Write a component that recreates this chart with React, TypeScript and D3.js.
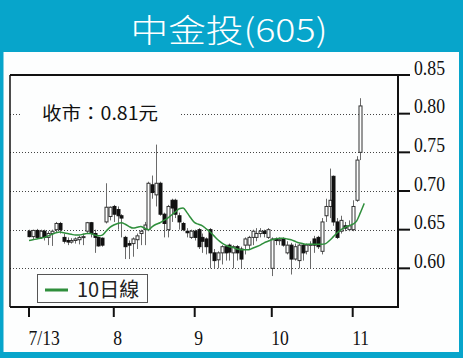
import React from "react";
import * as d3 from "d3";

const opens = [0.648,0.641,0.649,0.640,0.648,0.640,0.645,0.650,0.658,0.640,0.636,0.634,0.636,0.637,0.640,0.648,0.659,0.645,0.640,0.639,0.660,0.667,0.680,0.676,0.668,0.640,0.632,0.632,0.637,0.645,0.650,0.650,0.708,0.695,0.710,0.670,0.650,0.688,0.688,0.668,0.658,0.648,0.640,0.648,0.650,0.640,0.638,0.650,0.620,0.611,0.620,0.628,0.630,0.620,0.628,0.625,0.630,0.630,0.640,0.640,0.645,0.648,0.640,0.600,0.638,0.636,0.638,0.620,0.630,0.612,0.610,0.630,0.622,0.630,0.638,0.640,0.622,0.668,0.680,0.719,0.660,0.648,0.655,0.650,0.650,0.688,0.750];
const highs = [0.650,0.650,0.651,0.650,0.650,0.648,0.650,0.660,0.660,0.645,0.640,0.639,0.640,0.642,0.645,0.660,0.660,0.650,0.641,0.640,0.710,0.680,0.682,0.680,0.670,0.642,0.636,0.640,0.645,0.650,0.660,0.712,0.720,0.760,0.712,0.672,0.682,0.690,0.690,0.672,0.660,0.652,0.650,0.650,0.652,0.645,0.640,0.652,0.625,0.622,0.630,0.630,0.632,0.630,0.630,0.628,0.640,0.642,0.650,0.652,0.652,0.650,0.652,0.640,0.640,0.640,0.640,0.635,0.633,0.632,0.632,0.632,0.632,0.635,0.642,0.642,0.665,0.690,0.729,0.720,0.665,0.668,0.660,0.662,0.688,0.745,0.820];
const lows = [0.640,0.638,0.639,0.638,0.636,0.630,0.629,0.647,0.645,0.632,0.630,0.632,0.632,0.631,0.630,0.645,0.640,0.620,0.628,0.628,0.658,0.662,0.660,0.650,0.640,0.612,0.612,0.615,0.625,0.630,0.630,0.648,0.690,0.680,0.668,0.640,0.640,0.660,0.665,0.650,0.648,0.640,0.638,0.636,0.625,0.620,0.618,0.600,0.600,0.600,0.605,0.610,0.610,0.600,0.610,0.600,0.618,0.625,0.630,0.635,0.640,0.640,0.638,0.590,0.630,0.630,0.628,0.618,0.592,0.610,0.600,0.610,0.618,0.600,0.620,0.625,0.618,0.660,0.665,0.655,0.638,0.645,0.648,0.648,0.648,0.686,0.740];
const closes = [0.641,0.649,0.640,0.648,0.640,0.645,0.648,0.658,0.650,0.635,0.634,0.636,0.638,0.640,0.641,0.659,0.645,0.640,0.629,0.630,0.679,0.679,0.670,0.668,0.665,0.628,0.630,0.638,0.642,0.648,0.656,0.710,0.698,0.710,0.670,0.658,0.680,0.678,0.670,0.660,0.650,0.646,0.648,0.640,0.628,0.635,0.628,0.620,0.610,0.620,0.628,0.620,0.621,0.628,0.620,0.612,0.638,0.640,0.648,0.645,0.648,0.645,0.650,0.638,0.636,0.637,0.630,0.630,0.612,0.628,0.630,0.620,0.630,0.631,0.630,0.628,0.660,0.680,0.688,0.660,0.640,0.662,0.652,0.655,0.680,0.740,0.810];
const ma10 = [0.636,0.637,0.638,0.639,0.640,0.642,0.644,0.646,0.647,0.646,0.645,0.644,0.643,0.643,0.644,0.645,0.645,0.643,0.642,0.643,0.648,0.653,0.656,0.658,0.659,0.657,0.654,0.652,0.653,0.654,0.652,0.650,0.654,0.657,0.659,0.662,0.665,0.669,0.673,0.677,0.678,0.672,0.665,0.659,0.657,0.655,0.651,0.647,0.642,0.637,0.633,0.630,0.628,0.627,0.625,0.624,0.624,0.624,0.626,0.628,0.630,0.633,0.635,0.637,0.638,0.639,0.639,0.638,0.637,0.635,0.633,0.632,0.631,0.631,0.631,0.631,0.631,0.632,0.636,0.641,0.646,0.650,0.653,0.655,0.657,0.661,0.672,0.684];

const xTickIndex = [0, 22, 43, 63, 84];
const xTickLabels = ["7/13", "8", "9", "10", "11"];
const yTicks = [0.85, 0.80, 0.75, 0.70, 0.65, 0.60];
const gridValues = [0.80, 0.75, 0.70, 0.65, 0.60];
const titleText = "中金投(605)";
const closeLabel = "收市：0.81元";
const legendLabel = "10日線";

const W = 463, H = 358;
const plotL = 10, plotR = 398, plotT = 75, plotB = 307;
const teal = "#07a5cb";
const green = "#2f8f3c";

export default function App() {
  const y = d3.scaleLinear().domain([0.55, 0.85]).range([plotB, plotT]);
  const x = d3.scaleLinear().domain([0, 84]).range([29, 352.7]);
  const maLine = d3.line<number>().x((_, i) => x(i)).y((d) => y(d)).curve(d3.curveMonotoneX);
  const serif = "'Liberation Serif', 'DejaVu Serif', serif";
  const cjk = "'Noto Sans CJK TC', 'Noto Sans', sans-serif";

  return (
    <svg width={W} height={H} style={{ position: "absolute", left: 0, top: 0 }}>
      <rect x={0} y={0} width={W} height={H} fill={teal} />
      <rect x={3.5} y={52} width={455.5} height={300} fill="#fdfefe" />
      <text x={229} y={42} fill="#fff" fontSize={32} fontWeight={300} fontFamily={cjk} textAnchor="middle" textLength={197} lengthAdjust="spacingAndGlyphs">{titleText}</text>

      {gridValues.map((v) => (
        <line key={"g" + v} x1={plotL} x2={plotR} y1={Math.round(y(v)) + 0.5} y2={Math.round(y(v)) + 0.5} stroke="#444" strokeWidth={1} strokeDasharray="1,2" />
      ))}

      <rect x={20} y={100} width={160} height={26} fill="#fdfefe" />
      <text x={42} y={120} fontSize={18} fontFamily={cjk} fill="#111" textLength={116} lengthAdjust="spacingAndGlyphs">{closeLabel}</text>

      {opens.map((o, i) => {
        const c = closes[i];
        const up = c >= o;
        const cx = Math.round(x(i));
        const top = y(Math.max(o, c));
        const bot = y(Math.min(o, c));
        return (
          <g key={"c" + i}>
            <line x1={cx + 0.5} x2={cx + 0.5} y1={y(highs[i])} y2={y(lows[i])} stroke="#6a6a6a" strokeWidth={1} />
            <rect x={cx - 1} y={top} width={3} height={Math.max(1, bot - top)} fill={up ? "#fdfefe" : "#111"} stroke={up ? "#333" : "#111"} strokeWidth={1} />
          </g>
        );
      })}

      <path d={maLine(ma10) || ""} fill="none" stroke={green} strokeWidth={1.5} />

      <line x1={plotL} x2={plotR + 1} y1={plotT} y2={plotT} stroke="#111" strokeWidth={2} />
      <line x1={plotL} x2={plotL} y1={plotT} y2={plotB} stroke="#111" strokeWidth={1.5} />
      <line x1={plotL} x2={plotR + 1} y1={plotB} y2={plotB} stroke="#111" strokeWidth={2} />
      <line x1={plotR} x2={plotR} y1={plotT} y2={plotB} stroke="#111" strokeWidth={2} />

      {yTicks.map((v) => (
        <g key={"y" + v}>
          <line x1={plotR} x2={plotR + 12} y1={y(v)} y2={y(v)} stroke="#111" strokeWidth={2} />
          <text x={414} y={y(v) - 0.5} fontSize={20} fontFamily={serif} fill="#111" textLength={31} lengthAdjust="spacingAndGlyphs">{v.toFixed(2)}</text>
        </g>
      ))}

      {xTickIndex.map((t, k) => (
        <g key={"x" + t}>
          <line x1={x(t)} x2={x(t)} y1={plotB} y2={plotB + 10} stroke="#111" strokeWidth={2} />
          <text transform={`translate(${x(t) - 0.5},${345}) scale(0.8,1)`} fontSize={22} fontFamily={serif} fill="#111">{xTickLabels[k]}</text>
        </g>
      ))}

      <rect x={37.5} y={274.5} width={110} height={28} fill="#fdfefe" stroke="#555" strokeWidth={1} />
      <line x1={45} x2={68} y1={290} y2={290} stroke={green} strokeWidth={3} />
      <text x={77} y={297} fontSize={20} fontFamily={cjk} fill="#222">{legendLabel}</text>
    </svg>
  );
}
